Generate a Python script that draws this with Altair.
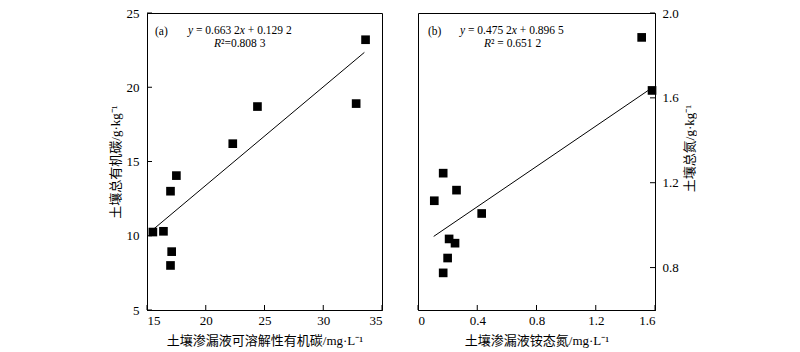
import altair as alt
import pandas as pd

# ---------------- data ----------------
doc_x = [33.6, 32.8, 24.4, 22.3, 17.5, 17.0, 15.5, 16.4, 17.1, 17.0]
soc_y = [23.2, 18.9, 18.7, 16.2, 14.05, 13.0, 10.25, 10.3, 8.93, 8.0]
fit_a = [0.6632, 0.1292]          # slope, intercept
fit_a_x = [15.6, 33.5]

nh4_x = [1.51, 1.58, 0.17, 0.26, 0.11, 0.43, 0.21, 0.25, 0.20, 0.17]
tn_y = [1.885, 1.635, 1.245, 1.165, 1.115, 1.055, 0.935, 0.915, 0.845, 0.775]
fit_b = [0.4752, 0.8965]
fit_b_x = [0.106, 1.58]

ticks_ax = [15, 20, 25, 30, 35]
ticks_ay = [5, 10, 15, 20, 25]
ticks_bx = [0, 0.4, 0.8, 1.2, 1.6]
ticks_by = [0.8, 1.2, 1.6, 2.0]

title_ax = "土壤渗漏液可溶解性有机碳/mg·L⁻¹"
title_ay = "土壤总有机碳/g·kg⁻¹"
title_bx = "土壤渗漏液铵态氮/mg·L⁻¹"
title_by = "土壤总氮/g·kg⁻¹"

# (text, italic, space-before in em)
lab_a = [("(a)", False, 0)]
eq_a = [("y", True, 0), ("= 0.663 2", False, 0.25), ("x", True, 0), ("+ 0.129 2", False, 0.25)]
r2_a = [("R", True, 0), ("²=0.808 3", False, 0)]
lab_b = [("(b)", False, 0)]
eq_b = [("y", True, 0), ("= 0.475 2", False, 0.25), ("x", True, 0), ("+ 0.896 5", False, 0.25)]
r2_b = [("R", True, 0), ("² = 0.651 2", False, 0)]

# ---------------- layout ----------------
W_A, W_B, H = 235, 237, 297
FONT = "Liberation Serif, Noto Sans CJK SC"
FS = 11.5

# Times-like advance widths (em)
CW = {" ": 0.25, ".": 0.25, "=": 0.564, "+": 0.564, "(": 0.333, ")": 0.333,
      "a": 0.444, "b": 0.5, "y": 0.444, "x": 0.444, "R": 0.611, "²": 0.3}


def text_w(s):
    return sum(CW.get(c, 0.5) for c in s) * FS


def segments(parts, x0, y0):
    layers = []
    x = x0
    for t, it, gap in parts:
        x += gap * FS
        layers.append(
            alt.Chart(pd.DataFrame({"t": [t]})).mark_text(
                align="left", baseline="middle", font=FONT, fontSize=FS,
                fontStyle="italic" if it else "normal", color="black"
            ).encode(x=alt.value(x), y=alt.value(y0), text="t:N")
        )
        x += text_w(t)
    return layers


def panel(xs, ys, fit, fit_x, xdom, ydom, xt, yt, xtitle, ytitle, w, yorient,
          lab, eq, r2, lab_x, eq_x, r2_x, xfmt, yfmt):
    df = pd.DataFrame({"x": xs, "y": ys})
    xsc = alt.Scale(domain=xdom, nice=False, zero=False)
    ysc = alt.Scale(domain=ydom, nice=False, zero=False)
    yaxis_kw = dict(values=yt, orient=yorient, labelExpr=yfmt, titleAngle=270,
                    labelPadding=8, labelOverlap=False)
    if yorient == "right":
        yaxis_kw.update(titleBaseline="top", titlePadding=5, labelPadding=7, titleY=135)
    else:
        yaxis_kw.update(titlePadding=4)
    pts = alt.Chart(df).mark_point(shape="square", filled=True, size=75,
                                   color="black", opacity=1).encode(
        x=alt.X("x:Q", scale=xsc, title=xtitle,
                axis=alt.Axis(values=xt, labelExpr=xfmt, titlePadding=7,
                              labelPadding=4, labelOverlap=False)),
        y=alt.Y("y:Q", scale=ysc, title=ytitle, axis=alt.Axis(**yaxis_kw)),
    )
    fx = pd.DataFrame({"x": fit_x, "y": [fit[0] * v + fit[1] for v in fit_x]})
    line = alt.Chart(fx).mark_line(color="black", strokeWidth=1).encode(
        x=alt.X("x:Q", scale=xsc), y=alt.Y("y:Q", scale=ysc))
    xtk = alt.Chart(pd.DataFrame({"v": xt})).mark_rule(color="black", strokeWidth=1).encode(
        x=alt.X("v:Q", scale=xsc), y=alt.value(H), y2=alt.value(H - 5))
    if yorient == "left":
        ytk = alt.Chart(pd.DataFrame({"v": yt})).mark_rule(color="black", strokeWidth=1).encode(
            y=alt.Y("v:Q", scale=ysc), x=alt.value(0), x2=alt.value(5))
    else:
        ytk = alt.Chart(pd.DataFrame({"v": yt})).mark_rule(color="black", strokeWidth=1).encode(
            y=alt.Y("v:Q", scale=ysc), x=alt.value(w), x2=alt.value(w - 5))
    texts = segments(lab, lab_x, 19) + segments(eq, eq_x, 18) + segments(r2, r2_x, 31)
    return alt.layer(pts, line, xtk, ytk, *texts).properties(width=w, height=H)


xfmt_a = "format(datum.value, 'd')"
yfmt_a = "format(datum.value, 'd')"
xfmt_b = "datum.value == 0 ? '0' : format(datum.value, '.1f')"
yfmt_b = "format(datum.value, '.1f')"

pa = panel(doc_x, soc_y, fit_a, fit_a_x, [15, 35], [5, 25], ticks_ax, ticks_ay,
           title_ax, title_ay, W_A, "left", lab_a, eq_a, r2_a, 8, 41, 67, xfmt_a, yfmt_a)
pb = panel(nh4_x, tn_y, fit_b, fit_b_x, [0, 1.6], [0.6, 2.0], ticks_bx, ticks_by,
           title_bx, title_by, W_B, "right", lab_b, eq_b, r2_b, 10, 42, 66, xfmt_b, yfmt_b)

chart = alt.hconcat(pa, pb, spacing=36, bounds="flush").properties(
    padding={"left": 108, "top": 6, "right": 0, "bottom": 0},
    background="white",
).configure_view(stroke="black", strokeWidth=1).configure_axis(
    domainColor="black", domainWidth=1, tickSize=0, grid=False,
    labelFont="Liberation Serif", labelFontSize=13, labelColor="black",
    titleFont=FONT, titleFontSize=13, titleColor="black", titleFontWeight="normal",
)

chart.save("out.html", embed_options={"renderer": "svg", "actions": False})
